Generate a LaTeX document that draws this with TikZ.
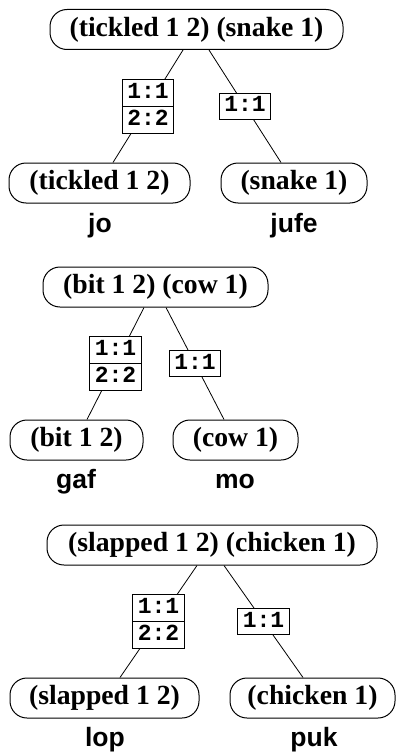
\documentclass[tikz,border=0pt]{standalone}
\usepackage{fontspec}
\setmainfont{Liberation Serif}
\newfontfamily\lsans{Liberation Sans}
\newfontfamily\lmono{Liberation Mono}
\usetikzlibrary{shapes.multipart}
\newcommand{\lbstrut}{\vrule width 0pt height 17pt depth 6pt}
\tikzset{
  pnode/.style={draw, line width=1pt, rounded corners=17pt, minimum height=40pt,
    inner xsep=2pt, inner ysep=0pt, font=\fontsize{27.7pt}{30pt}\selectfont\bfseries},
  wlabel/.style={anchor=base, inner sep=0pt, font=\fontsize{26.5pt}{30pt}\selectfont\lsans\bfseries},
  lbtwo/.style={draw, line width=0.8pt, fill=white, rectangle split, rectangle split parts=2,
    inner xsep=5pt, inner ysep=1.5pt, font=\fontsize{23pt}{25pt}\selectfont\lmono\bfseries},
  lbone/.style={draw, line width=0.8pt, fill=white, inner xsep=5pt, inner ysep=1.5pt,
    font=\fontsize{23pt}{25pt}\selectfont\lmono\bfseries},
  edge/.style={draw, line width=0.8pt}
}
\begin{document}
\begin{tikzpicture}[x=1pt, y=1pt]
\useasboundingbox (0,0) rectangle (397,-752);
% Tree 1
\node[pnode, minimum width=293pt] (t1) at (196.5,-29.5) {(tickled 1 2) (snake 1)};
\node[pnode, minimum width=181pt] (c1a) at (99.5,-183) {(tickled 1 2)};
\node[pnode, minimum width=146pt] (c1b) at (294,-183) {(snake 1)};
\node[wlabel] (w1a) at (100,-232) {jo};
\node[wlabel] (w1b) at (294,-232) {jufe};
\draw[edge] ([xshift=-13.5pt]t1.south) -- node[lbtwo] (l1a) {\lbstrut 1:1\nodepart{two}\lbstrut 2:2} ([xshift=13.5pt]c1a.north);
\draw[edge] ([xshift=12.5pt]t1.south) -- node[lbone] (l1b) {\lbstrut 1:1} ([xshift=-13pt]c1b.north);
% Tree 2
\node[pnode, minimum width=225pt] (t2) at (155.5,-287) {(bit 1 2) (cow 1)};
\node[pnode, minimum width=133pt] (c2a) at (76.5,-440) {(bit 1 2)};
\node[pnode, minimum width=125pt] (c2b) at (235.5,-440) {(cow 1)};
\node[wlabel] (w2a) at (76,-488) {gaf};
\node[wlabel] (w2b) at (235,-488) {mo};
\draw[edge] ([xshift=-11.5pt]t2.south) -- node[lbtwo] (l2a) {\lbstrut 1:1\nodepart{two}\lbstrut 2:2} ([xshift=10.5pt]c2a.north);
\draw[edge] ([xshift=10.5pt]t2.south) -- node[lbone] (l2b) {\lbstrut 1:1} ([xshift=-11.5pt]c2b.north);
% Tree 3
\node[pnode, minimum width=330pt] (t3) at (212,-545) {(slapped 1 2) (chicken 1)};
\node[pnode, minimum width=189pt] (c3a) at (104.5,-698) {(slapped 1 2)};
\node[pnode, minimum width=165pt] (c3b) at (312.5,-698) {(chicken 1)};
\node[wlabel] (w3a) at (105,-746) {lop};
\node[wlabel] (w3b) at (314,-746) {puk};
\draw[edge] ([xshift=-15pt]t3.south) -- node[lbtwo] (l3a) {\lbstrut 1:1\nodepart{two}\lbstrut 2:2} ([xshift=15.5pt]c3a.north);
\draw[edge] ([xshift=12pt]t3.south) -- node[lbone] (l3b) {\lbstrut 1:1} ([xshift=-9.5pt]c3b.north);
\end{tikzpicture}
\end{document}
